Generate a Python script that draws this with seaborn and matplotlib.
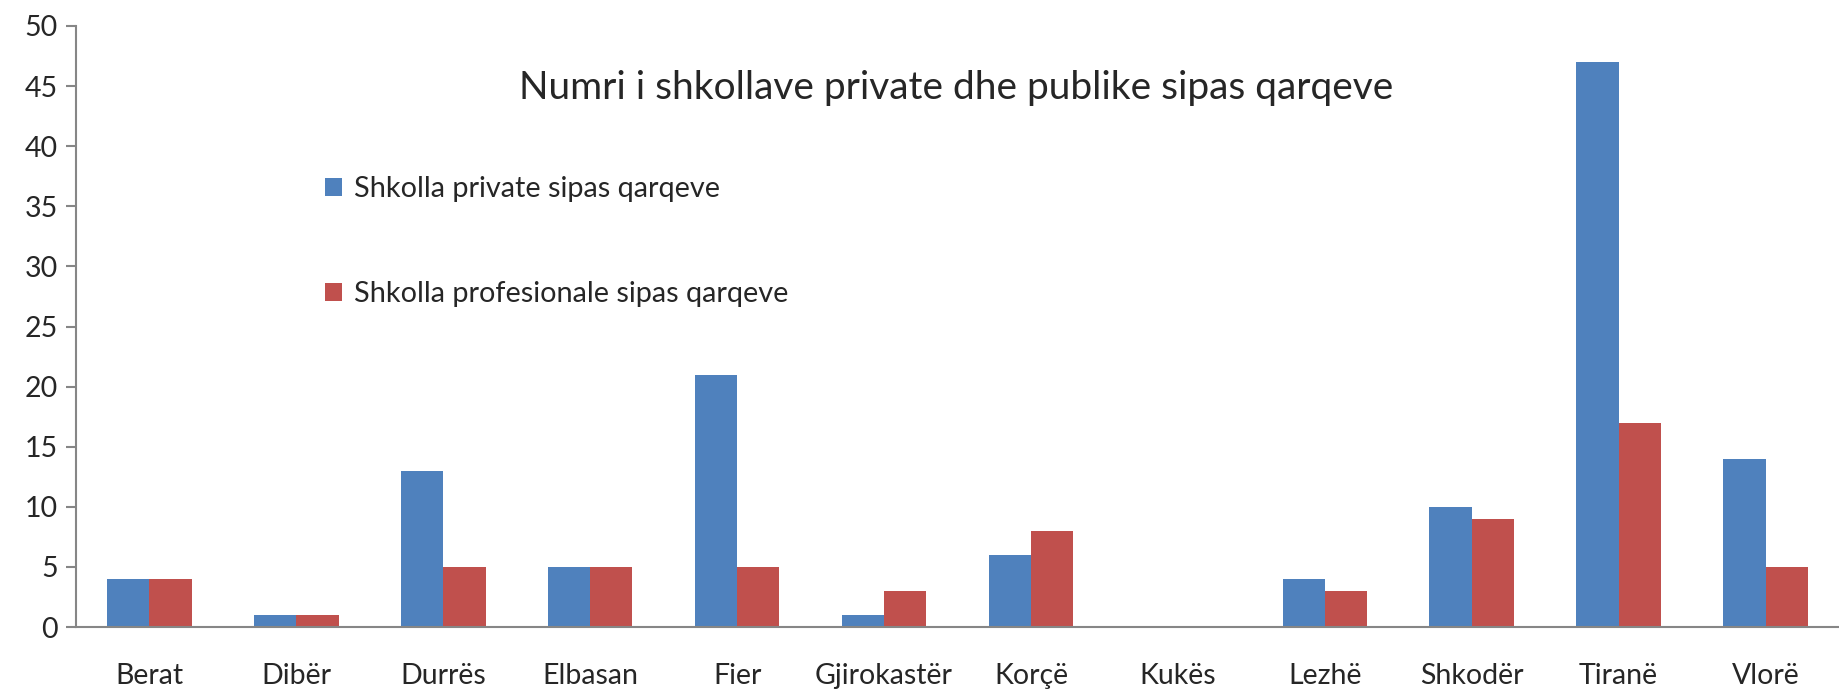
import numpy as np
import pandas as pd
import matplotlib
matplotlib.use('Agg')
import matplotlib.pyplot as plt
import seaborn as sns

qarqet = ['Berat', 'Dibër', 'Durrës', 'Elbasan', 'Fier', 'Gjirokastër',
          'Korçë', 'Kukës', 'Lezhë', 'Shkodër', 'Tiranë', 'Vlorë']
private = [4, 1, 13, 5, 21, 1, 6, 0, 4, 10, 47, 14]
profesionale = [4, 1, 5, 5, 5, 3, 8, 0, 3, 9, 17, 5]
seri = ['Shkolla private sipas qarqeve', 'Shkolla profesionale sipas qarqeve']

df = pd.DataFrame({
    'qarku': qarqet * 2,
    'vlera': private + profesionale,
    'seria': [seri[0]] * len(qarqet) + [seri[1]] * len(qarqet),
})

sns.set_style('white')
plt.rcParams['font.family'] = ['Lato', 'DejaVu Sans']

fig = plt.figure(figsize=(18.39, 6.9), dpi=100)
ax = fig.add_axes([76 / 1839, 1 - 627 / 690, 1 - 76 / 1839, (627 - 26) / 690])

sns.barplot(data=df, x='qarku', y='vlera', hue='seria', order=qarqet,
            palette=['#4F81BD', '#C0504D'], saturation=1, width=0.575, gap=0,
            edgecolor='none', linewidth=0, ax=ax)

ax.set_xlim(-0.5, len(qarqet) - 0.5)
ax.set_ylim(0, 50)
ax.set_yticks(np.arange(0, 51, 5))
ax.set_xlabel('')
ax.set_ylabel('')

for s in ['top', 'right']:
    ax.spines[s].set_visible(False)
for s in ['left', 'bottom']:
    ax.spines[s].set_color('#868686')
    ax.spines[s].set_linewidth(1.5)

# tick marks sit between the categories, labels stay centred
ax.set_xticks(np.arange(-0.5, len(qarqet), 1), minor=True)
ax.tick_params(axis='x', which='major', length=0, pad=26, labelsize=20.5)
ax.tick_params(axis='x', which='minor', length=7, width=1.5, color='#868686', direction='out')
ax.tick_params(axis='y', length=7, width=1.5, color='#868686', direction='out', left=True,
               labelsize=20.5, pad=6)

ax.text(956 / 1839, 1 - 88 / 690, 'Numri i shkollave private dhe publike sipas qarqeve',
        transform=fig.transFigure, ha='center', va='center', fontsize=28)

ax.legend(loc='upper left', bbox_to_anchor=(299 / 1839, 1 - 150 / 690),
          bbox_transform=fig.transFigure, frameon=False, fontsize=20.8,
          labelspacing=2.75, handlelength=0.6, handleheight=0.6, handletextpad=0.4)

fig.savefig('out.png', dpi=100)
